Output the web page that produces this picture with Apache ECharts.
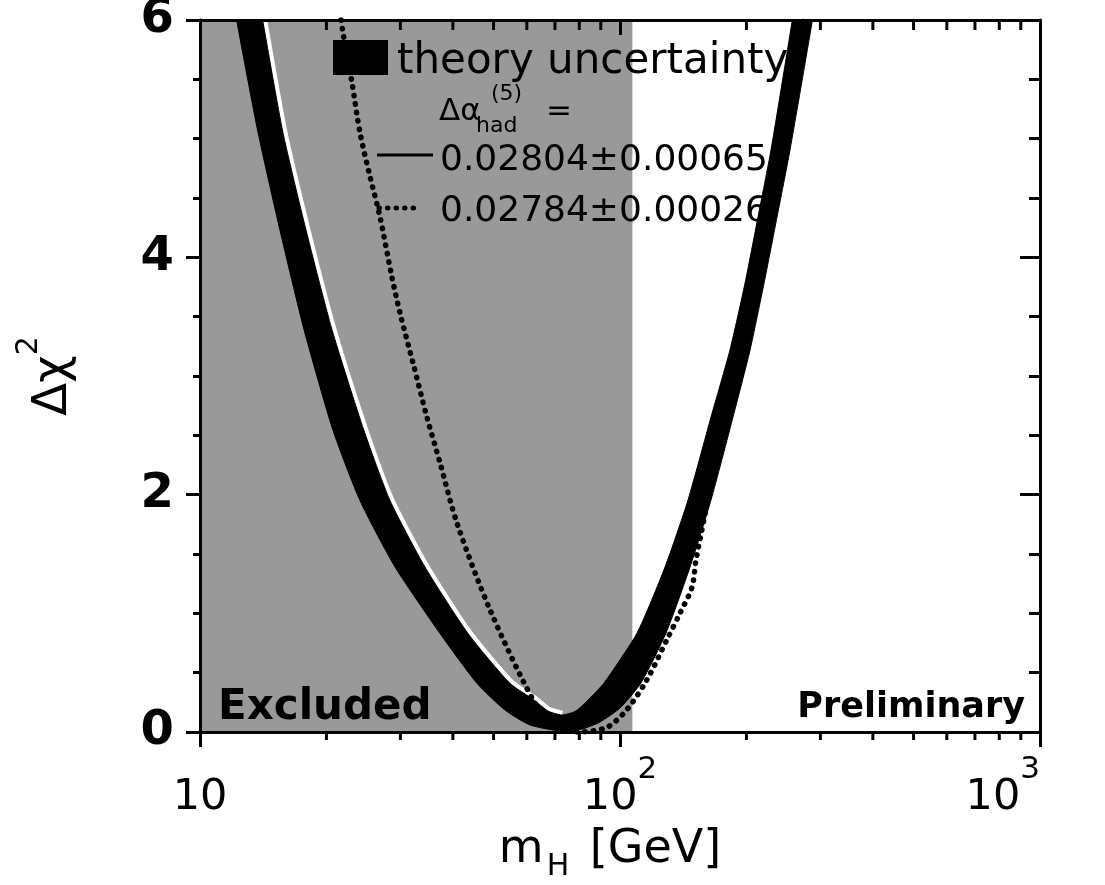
<!DOCTYPE html>
<html><head><meta charset="utf-8">
<script src="https://cdn.jsdelivr.net/npm/echarts@6/dist/echarts.min.js"></script>
<style>html,body{margin:0;padding:0;background:#fff}#c{width:1105px;height:885px}</style>
</head><body><div id="c"></div>
<script>
// ---------------- data ----------------
const xMin = 10, xMax = 1000;
const yMin = 0, yMax = 6, yInterval = 2;
const xMajorTicks = [10, 100, 1000];
const xTickBase = ['10', '10', '10'];
const xTickExp = ['', '2', '3'];
const xMinorTicks = [20, 30, 40, 50, 60, 70, 80, 90, 200, 300, 400, 500, 600, 700, 800, 900];
const excludedRange = [10, 107];

// theory-uncertainty band: outer edge (lower Δχ² curve), left to right
const bandOuterMH  = [11.13, 12.25, 13.75, 15.50, 17.69, 20.74, 24.04, 29.13, 37.28, 45.66, 53.2, 61.05, 72.4, 81.2, 89.6, 100, 112.2, 128.7, 146.8, 164.7, 185.8, 204.0, 220.3, 236.5, 253.9, 286.6, 313.6];
const bandOuterChi = [6.8, 5.98, 5.05, 4.23, 3.39, 2.54, 1.95, 1.39, 0.83, 0.41, 0.185, 0.059, 0.008, 0.025, 0.084, 0.202, 0.413, 0.834, 1.39, 1.955, 2.654, 3.218, 3.783, 4.339, 4.903, 5.98, 6.8];
// inner edge (upper Δχ² curve), left to right
const bandInnerMH  = [12.90, 14.13, 15.76, 17.88, 20.62, 24.57, 28.34, 34.33, 43.46, 54.71, 62.41, 67.39, 72.76, 78.57, 84.37, 91.61, 109.8, 128.0, 145.2, 164.7, 182.7, 198.5, 213.1, 228.8, 256.7, 279.6];
const bandInnerChi = [6.8, 5.98, 5.05, 4.23, 3.39, 2.54, 1.95, 1.39, 0.83, 0.41, 0.270, 0.177, 0.143, 0.177, 0.278, 0.413, 0.834, 1.39, 1.955, 2.654, 3.218, 3.783, 4.339, 4.903, 5.98, 6.8];
const bandMinMH = 72.76;

// Δα_had = 0.02784 ± 0.00026 (dotted curve)
const dottedMH  = [21.66, 21.90, 23.01, 24.04, 25.40, 26.83, 28.65, 29.94, 32.15, 34.71, 37.27, 40.92, 49.03, 62.09, 68.13, 79.43, 93.11, 103.9, 115.9, 129.4, 138.9, 148.4, 151.7, 162.0, 178.8, 195.2, 210.8, 226.3, 243.1, 272.8, 277.3];
const dottedChi = [6.0, 5.89, 5.47, 5.05, 4.68, 4.34, 3.83, 3.53, 3.11, 2.65, 2.27, 1.76, 1.03, 0.27, 0.10, 0.0, 0.04, 0.19, 0.44, 0.78, 1.00, 1.22, 1.449, 1.955, 2.654, 3.218, 3.783, 4.339, 4.903, 5.98, 6.17];

const legendTitle = 'theory uncertainty';
const legendHeader = ['Δα', '(5)', 'had', '='];
const legendSolid = '0.02804±0.00065';
const legendDotted = '0.02784±0.00026';
const excludedText = 'Excluded';
const prelimText = 'Preliminary';
// --------------------------------------

const FONT = 'DejaVu Sans';
const chart = echarts.init(document.getElementById('c'), null, {renderer: 'canvas'});

function xLabel(v) {
  let best = 0, d = Infinity;
  xMajorTicks.forEach((t, i) => { const dd = Math.abs(Math.log10(v) - Math.log10(t)); if (dd < d) { d = dd; best = i; } });
  const e = xTickExp[best];
  return '{b|' + xTickBase[best] + '}' + (e ? '{s|' + e + '}' : '');
}

const axisLineStyle = {color: '#000', width: 3};

const option = {
  backgroundColor: '#fff',
  animation: false,
  grid: {left: 200, right: 65, top: 20, bottom: 153, containLabel: false, outerBoundsMode: 'none'},
  xAxis: [{
    type: 'log', logBase: 10, min: xMin, max: xMax, position: 'bottom', z: 5,
    axisLine: {show: true, onZero: false, lineStyle: axisLineStyle},
    axisTick: {show: true, inside: false, length: 15, lineStyle: {color: '#000', width: 3}},
    splitLine: {show: false}, minorTick: {show: false},
    axisLabel: {
      show: true, margin: 22, formatter: xLabel, alignMaxLabel: 'right', alignMinLabel: 'center',
      rich: {
        b: {fontFamily: FONT, fontSize: 43, lineHeight: 88, color: '#000'},
        s: {fontFamily: FONT, fontSize: 31, lineHeight: 30, verticalAlign: 'top', color: '#000'}
      }
    },
    name: '{b|m}{s|H}{b| [GeV]}', nameLocation: 'middle', nameGap: 86, nameMoveOverlap: false,
    nameTextStyle: {
      padding: [0, 20, 0, 0],
      rich: {
        b: {fontFamily: FONT, fontSize: 46, lineHeight: 64, color: '#000'},
        s: {fontFamily: FONT, fontSize: 30, lineHeight: 24, verticalAlign: 'bottom', color: '#000', padding: [0, 6, 0, 3]}
      }
    }
  }, {
    type: 'log', logBase: 10, min: xMin, max: xMax, position: 'top', z: 5,
    axisLine: {show: true, onZero: false, lineStyle: axisLineStyle},
    axisTick: {show: true, inside: true, length: 15, lineStyle: {color: '#000', width: 3}},
    axisLabel: {show: false}, splitLine: {show: false}
  }],
  yAxis: [{
    type: 'value', min: yMin, max: yMax, interval: yInterval, position: 'left', z: 5,
    axisLine: {show: true, onZero: false, lineStyle: axisLineStyle},
    axisTick: {show: true, inside: false, length: 14, lineStyle: {color: '#000', width: 3}},
    minorTick: {show: true, splitNumber: 4, length: 7, lineStyle: {color: '#000', width: 3}},
    splitLine: {show: false}, minorSplitLine: {show: false},
    axisLabel: {show: true, margin: 26, fontFamily: FONT, fontWeight: 'bold', fontSize: 48, color: '#000'},
    name: '{b|Δχ}{s|2}', nameLocation: 'middle', nameRotate: 90, nameGap: 106, nameMoveOverlap: false,
    nameTextStyle: {
      rich: {
        b: {fontFamily: FONT, fontSize: 48, lineHeight: 80, color: '#000'},
        s: {fontFamily: FONT, fontSize: 30, lineHeight: 30, verticalAlign: 'top', color: '#000'}
      }
    }
  }, {
    type: 'value', min: yMin, max: yMax, interval: yInterval, position: 'right', z: 5,
    axisLine: {show: true, onZero: false, lineStyle: axisLineStyle},
    axisTick: {show: true, inside: true, length: 20, lineStyle: {color: '#000', width: 3}},
    minorTick: {show: true, splitNumber: 4, length: 11, lineStyle: {color: '#000', width: 3}},
    splitLine: {show: false}, minorSplitLine: {show: false},
    axisLabel: {show: false}
  }],
  graphic: {elements: [
    {type: 'rect', z: 2.5, shape: {x: 333, y: 40, width: 55, height: 35}, style: {fill: '#000'}},
    {type: 'text', z: 2.5, x: 397, y: 62, style: {text: legendTitle, font: '42px "DejaVu Sans"', fill: '#000', verticalAlign: 'middle'}},
    {type: 'text', z: 2.5, x: 439, y: 112, style: {text: legendHeader[0], font: '31px "DejaVu Sans"', fill: '#000', verticalAlign: 'middle'}},
    {type: 'text', z: 2.5, x: 491, y: 94, style: {text: legendHeader[1], font: '22px "DejaVu Sans"', fill: '#000', verticalAlign: 'middle'}},
    {type: 'text', z: 2.5, x: 476, y: 126, style: {text: legendHeader[2], font: '22px "DejaVu Sans"', fill: '#000', verticalAlign: 'middle'}},
    {type: 'text', z: 2.5, x: 546, y: 112, style: {text: legendHeader[3], font: '31px "DejaVu Sans"', fill: '#000', verticalAlign: 'middle'}},
    {type: 'line', z: 2.5, shape: {x1: 377, y1: 155, x2: 433, y2: 155}, style: {stroke: '#000', lineWidth: 3}},
    {type: 'text', z: 2.5, x: 440, y: 161, style: {text: legendSolid, font: '36px "DejaVu Sans"', fill: '#000', verticalAlign: 'middle'}},
    {type: 'line', z: 2.5, shape: {x1: 379, y1: 208, x2: 417, y2: 208}, style: {stroke: '#000', lineWidth: 5, lineDash: [0.5, 8], lineCap: 'round'}},
    {type: 'text', z: 2.5, x: 440, y: 212, style: {text: legendDotted, font: '36px "DejaVu Sans"', fill: '#000', verticalAlign: 'middle'}},
    {type: 'text', z: 2.5, x: 218, y: 708, style: {text: excludedText, font: 'bold 42px "DejaVu Sans"', fill: '#000', verticalAlign: 'middle'}},
    {type: 'text', z: 2.5, x: 1025, y: 708, style: {text: prelimText, font: 'bold 35px "DejaVu Sans"', fill: '#000', verticalAlign: 'middle', align: 'right'}}
  ]},
  series: [
    { // excluded region
      type: 'custom', name: 'Excluded', z: 1, silent: true, clip: true,
      xAxisIndex: 0, yAxisIndex: 0,
      data: [[excludedRange[0], yMin]],
      renderItem(p, api) {
        const a = api.coord([excludedRange[0], yMax]);
        const b = api.coord([excludedRange[1], yMin]);
        return {type: 'rect', shape: {x: a[0], y: a[1], width: b[0] - a[0], height: b[1] - a[1]}, style: {fill: '#999999'}};
      }
    },
    { // white halo along inner edge of band (left arm)
      type: 'custom', z: 1.5, silent: true, clip: true,
      xAxisIndex: 0, yAxisIndex: 0,
      data: [[bandInnerMH[0], bandInnerChi[0]]],
      renderItem(p, api) {
        const pts = [];
        bandInnerMH.forEach((m, i) => { if (m <= bandMinMH) pts.push(api.coord([m, bandInnerChi[i]])); });
        return {type: 'polyline', shape: {points: pts, smooth: 0.2}, style: {stroke: '#fff', lineWidth: 9, fill: null, lineJoin: 'round'}};
      }
    },
    { // dotted curve
      type: 'line', name: legendDotted, z: 2, silent: true, clip: true,
      xAxisIndex: 0, yAxisIndex: 0, symbol: 'none', smooth: 0.3,
      data: dottedMH.map((m, i) => [m, dottedChi[i]]),
      lineStyle: {color: '#000', width: 5.5, type: [0.5, 8], cap: 'round'}
    },
    { // theory band
      type: 'custom', name: legendTitle, z: 3, silent: true, clip: true,
      xAxisIndex: 0, yAxisIndex: 0,
      data: [[bandOuterMH[0], bandOuterChi[0]]],
      renderItem(p, api) {
        const pts = [];
        bandOuterMH.forEach((m, i) => pts.push(api.coord([m, bandOuterChi[i]])));
        for (let i = bandInnerMH.length - 1; i >= 0; i--) pts.push(api.coord([bandInnerMH[i], bandInnerChi[i]]));
        return {type: 'polygon', shape: {points: pts, smooth: 0.2}, style: {fill: '#000', stroke: '#000', lineWidth: 1, lineJoin: 'round'}};
      }
    },
    { // minor log ticks on bottom (outward) and top (inward)
      type: 'custom', z: 6, silent: true, clip: false,
      xAxisIndex: 0, yAxisIndex: 0,
      data: xMinorTicks.map(v => [v, yMin]),
      renderItem(p, api) {
        const v = api.value(0);
        const pb = api.coord([v, yMin]);
        const pt = api.coord([v, yMax]);
        return {type: 'group', children: [
          {type: 'line', shape: {x1: pb[0], y1: pb[1], x2: pb[0], y2: pb[1] + 8}, style: {stroke: '#000', lineWidth: 3}},
          {type: 'line', shape: {x1: pt[0], y1: pt[1], x2: pt[0], y2: pt[1] + 10}, style: {stroke: '#000', lineWidth: 3}}
        ]};
      }
    }
  ]
};
chart.setOption(option);
</script>
</body></html>
